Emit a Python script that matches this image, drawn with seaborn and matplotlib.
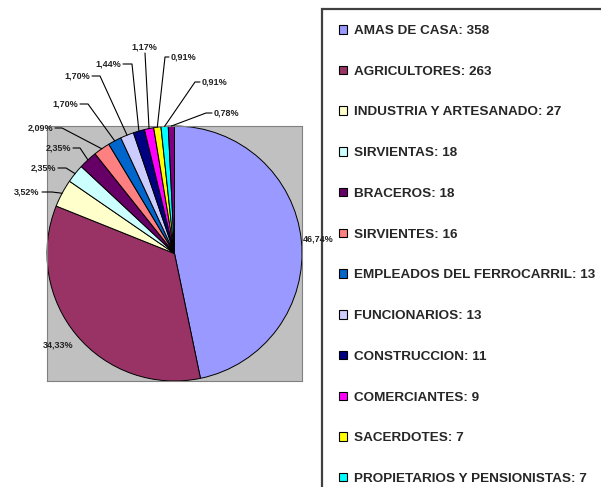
import numpy as np
import matplotlib
matplotlib.use("Agg")
import matplotlib.pyplot as plt
from matplotlib.patches import Rectangle
import seaborn as sns

# ---- data ----
categories = ["AMAS DE CASA", "AGRICULTORES", "INDUSTRIA Y ARTESANADO", "SIRVIENTAS",
              "BRACEROS", "SIRVIENTES", "EMPLEADOS DEL FERROCARRIL", "FUNCIONARIOS",
              "CONSTRUCCION", "COMERCIANTES", "SACERDOTES", "PROPIETARIOS Y PENSIONISTAS", ""]
values = [358, 263, 27, 18, 18, 16, 13, 13, 11, 9, 7, 7, 6]
colors = ["#9999FF", "#993366", "#FFFFCC", "#CCFFFF", "#660066", "#FF8080", "#0066CC",
          "#CCCCFF", "#000080", "#FF00FF", "#FFFF00", "#00FFFF", "#800080"]
legend_count = 12  # entries visible in the legend

sns.set_style("white")
plt.rcParams["font.family"] = ["Liberation Sans", "DejaVu Sans"]

W, H = 601, 487
fig = plt.figure(figsize=(W / 100, H / 100), dpi=100)
fig.patch.set_facecolor("white")

# plot area (pixels: left 47, right 302, top 126, bottom 381)
ax = fig.add_axes([47 / W, 1 - 381 / H, 255 / W, 255 / H])
palette = sns.color_palette(colors)
wedges, _ = ax.pie(values, colors=palette, startangle=90, counterclock=False,
                   wedgeprops=dict(edgecolor="black", linewidth=0.7))
ax.set_frame_on(True)
ax.set_facecolor("#C0C0C0")
ax.set_xlim(-1.0, 1.0)
ax.set_ylim(-1.0, 1.0)
ax.set_aspect("auto")
for s in ax.spines.values():
    s.set_color("#808080")
    s.set_linewidth(0.8)
ax.set_xticks([])
ax.set_yticks([])

total = float(sum(values))
pct_labels = [("%.2f" % (v / total * 100)).replace(".", ",") + "%" for v in values]

# pixel -> data conversion for label layout
CX, CY, R = 174.5, 253.5, 127.5
def d(px, py):
    return ((px - CX) / R, (CY - py) / R)

# label layout: (text anchor px, ha, line start px, elbow px) ; None = no leader
layout = [
    ((318, 239), "center", None, None),
    ((58, 345), "center", None, None),
    ((39, 192), "right", (42, 192), (52, 192)),
    ((56, 168), "right", (58, 168), (66, 168)),
    ((71, 148), "right", (73, 148), (80, 148)),
    ((53, 128), "right", (55, 128), (62, 128)),
    ((78, 104), "right", (80, 104), (88, 104)),
    ((90, 76), "right", (92, 76), (100, 76)),
    ((121, 64), "right", (123, 64), (132, 64)),
    ((144.5, 47), "center", (145, 53), (145, 53)),
    ((171, 57), "left", (169, 57), (165, 57)),
    ((202, 82), "left", (200, 82), (195, 82)),
    ((214, 113), "left", (212, 113), (206, 113)),
]

for w, lab, (pos, ha, start, elbow) in zip(wedges, pct_labels, layout):
    tx, ty = d(*pos)
    ax.text(tx, ty, lab, ha=ha, va="center", fontsize=6.5, fontweight="bold",
            color="#222222", clip_on=False, zorder=5)
    if start is not None:
        ang = np.deg2rad((w.theta1 + w.theta2) / 2)
        ex, ey = np.cos(ang), np.sin(ang)
        sx, sy = d(*start)
        bx, by = d(*elbow)
        ax.plot([sx, bx, ex], [sy, by, ey], color="black", lw=0.8,
                clip_on=False, zorder=4)

# legend frame (extends past the canvas on the right and bottom)
fig.patches.append(Rectangle((322 / W, -0.2), 1.0, 1.2 - 9 / H, transform=fig.transFigure,
                             fill=False, edgecolor="#404040", linewidth=1.6, zorder=-1))

handles = [Rectangle((0, 0), 1, 1, facecolor=c, edgecolor="black", linewidth=0.8)
           for c in colors[:legend_count]]
labels = ["%s: %d" % (c, v) for c, v in zip(categories[:legend_count], values[:legend_count])]
fig.legend(handles, labels, loc="upper left", bbox_to_anchor=(339 / W, 1 - 25 / H),
           frameon=False, prop=dict(size=9.7, weight="bold"), handlelength=0.6,
           handleheight=0.6, handletextpad=0.55, labelspacing=2.13,
           borderpad=0, borderaxespad=0)

fig.savefig("out.png", dpi=100)
